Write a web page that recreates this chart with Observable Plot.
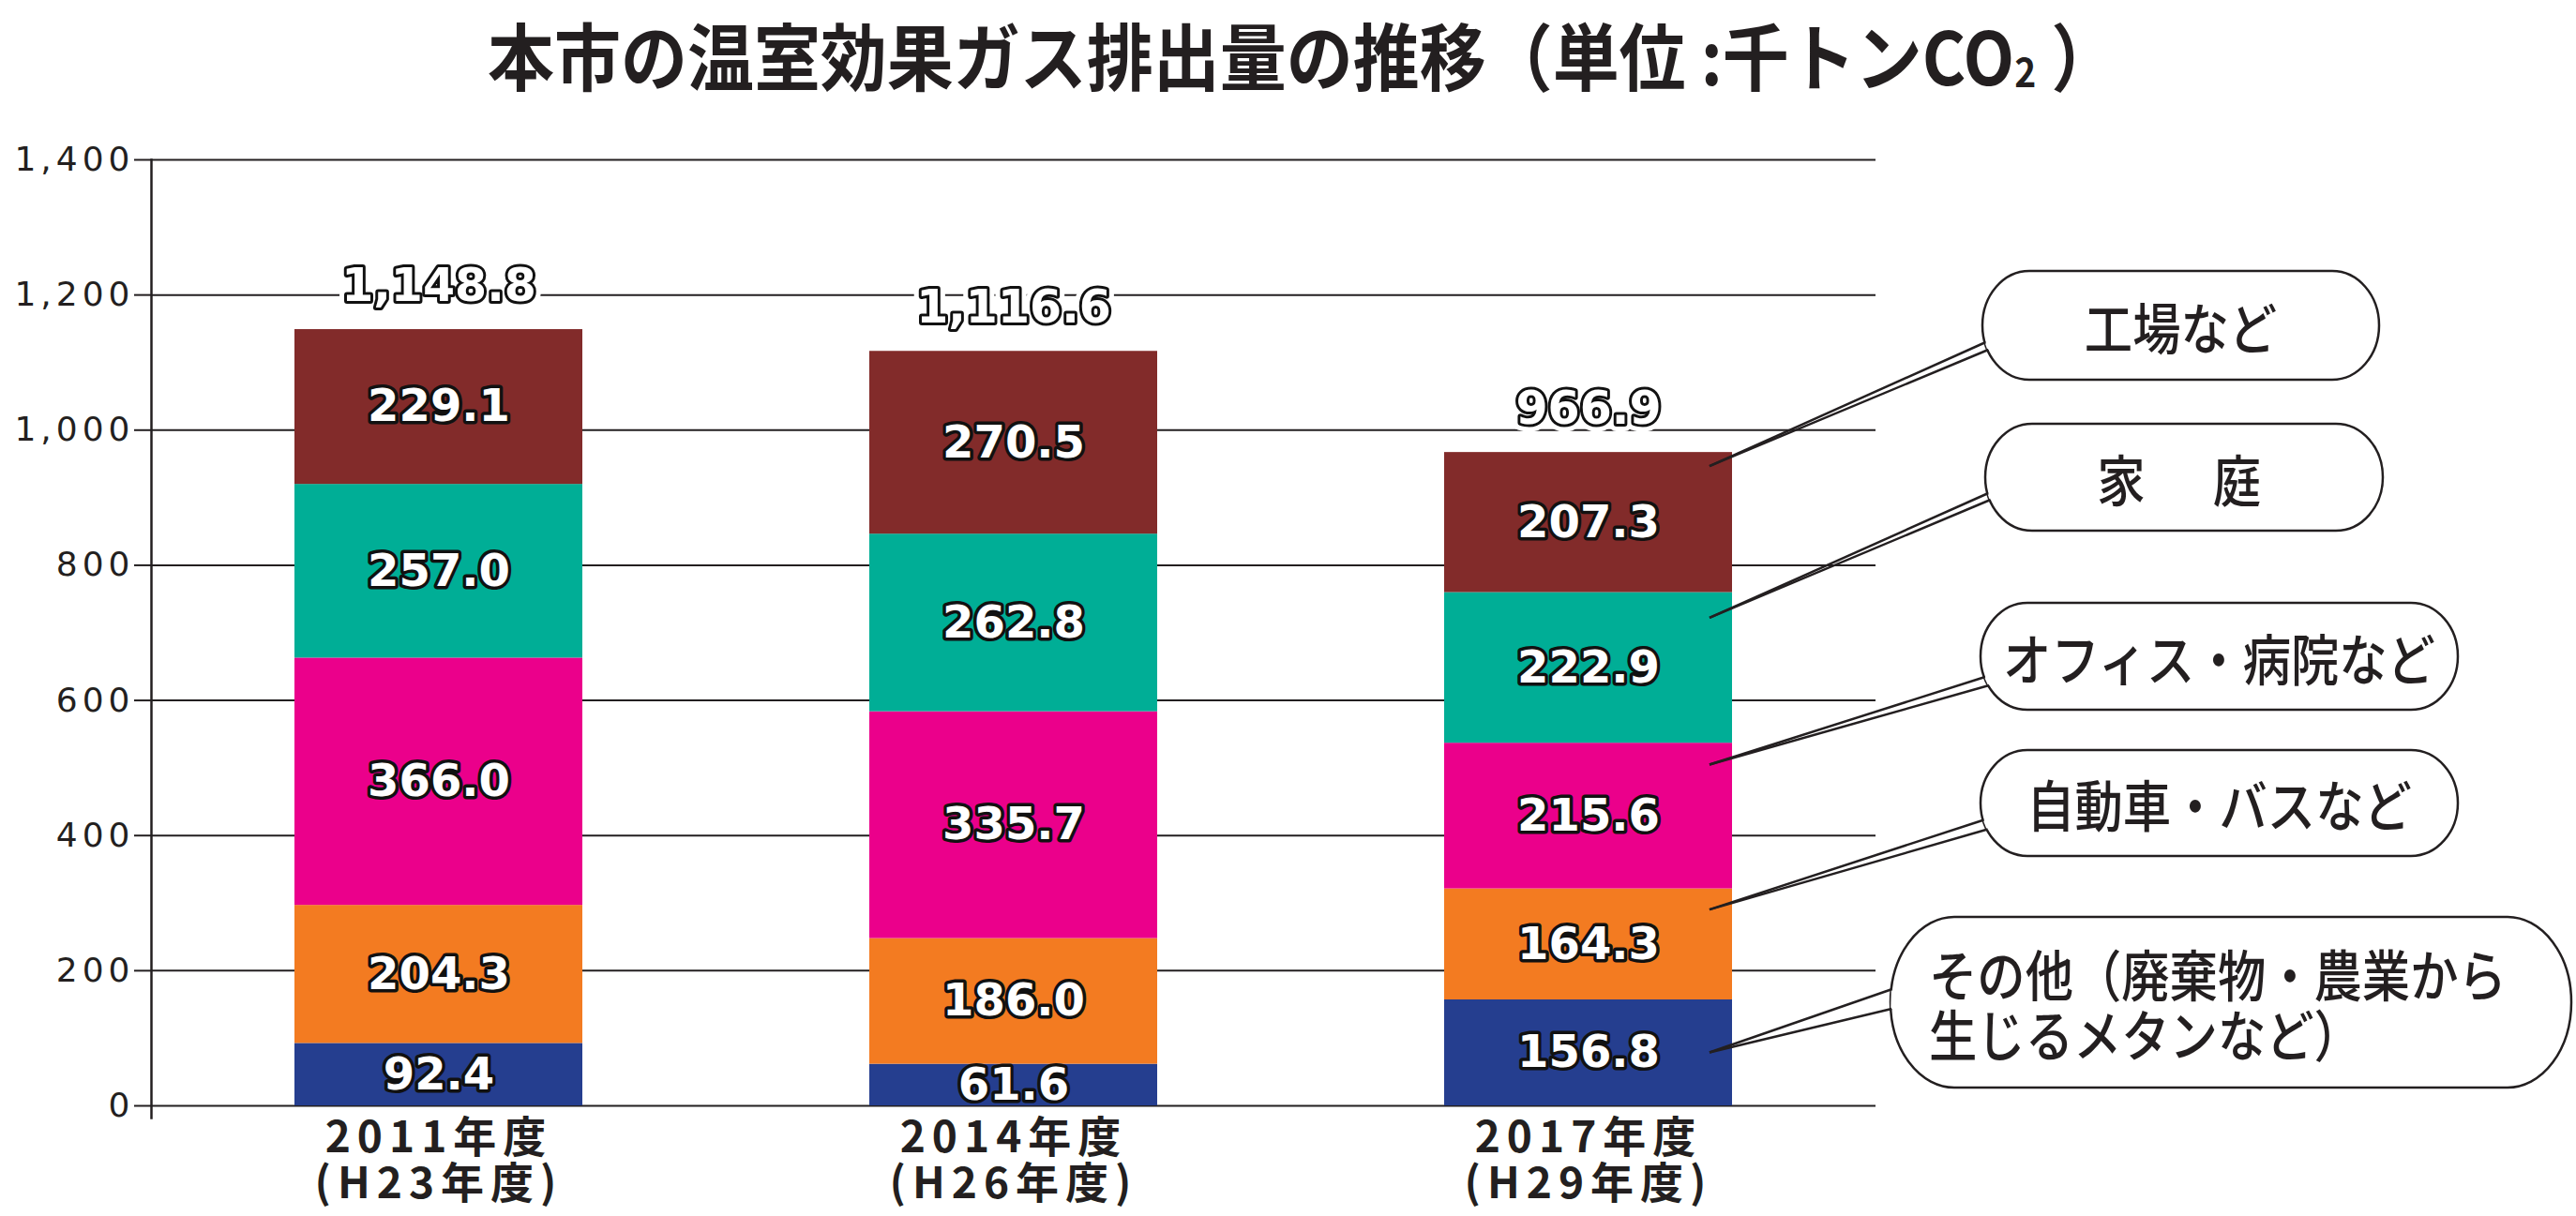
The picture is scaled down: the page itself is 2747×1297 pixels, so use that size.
<!DOCTYPE html>
<html><head><meta charset="utf-8">
<script src="https://cdn.jsdelivr.net/npm/d3@7"></script>
<script src="https://cdn.jsdelivr.net/npm/@observablehq/plot@0.6"></script>
<style>
html,body{margin:0;padding:0;background:#fff;}
#title{height:130px;box-sizing:border-box;padding-top:16px;text-align:center;font-family:"Noto Sans CJK JP";font-weight:700;font-size:78px;line-height:82px;color:#231f20;white-space:nowrap;overflow:hidden;}
#title span{display:inline-block;transform:scaleX(0.91);position:relative;left:16px;}
#title sub{font-size:0.55em;vertical-align:-0.05em;line-height:0;}
g[aria-label="y-axis tick label"] text{letter-spacing:5px;}
g[aria-label="x-axis tick label"] text{letter-spacing:7px;}
</style></head><body>
<div id="title"><span>本市の温室効果ガス排出量の推移（単位 :千トンCO<sub>2</sub> ）</span></div>
<div id="chart"></div>
<script>
// ---- data ----
const years = ["2011年度", "2014年度", "2017年度"];
const eras = ["(H23年度)", "(H26年度)", "(H29年度)"];
// categories from bottom of stack to top
const categories = ["その他", "自動車・バスなど", "オフィス・病院など", "家庭", "工場など"];
const otherValues   = [92.4, 61.6, 156.8];
const transportVals = [204.3, 186.0, 164.3];
const officeValues  = [366.0, 335.7, 215.6];
const homeValues    = [257.0, 262.8, 222.9];
const factoryValues = [229.1, 270.5, 207.3];
const totals = [1148.8, 1116.6, 966.9];
const yTicks = [0, 200, 400, 600, 800, 1000, 1200, 1400];
const colors = ["#253E8F", "#F37B21", "#EB008B", "#00AE96", "#822B2A"];
const calloutTexts = ["その他（廃棄物・農業から\n生じるメタンなど）", "自動車・バスなど", "オフィス・病院など", "家　庭", "工場など"];

const seriesValues = [otherValues, transportVals, officeValues, homeValues, factoryValues];
const rows = [];
years.forEach((yr, i) => categories.forEach((c, k) => rows.push({year: yr, cat: c, value: seriesValues[k][i]})));

const fmt1 = d3.format(".1f");
const fmtT = d3.format(",.1f");
const ink = "#231f20";

const chart = Plot.plot({
  width: 2747, height: 1167,
  marginLeft: 161, marginRight: 747, marginTop: 40, marginBottom: 118,
  style: {fontFamily: "DejaVu Sans", fontSize: "36px", background: "white", color: ink, overflow: "visible"},
  x: {domain: years, paddingInner: 0.5, paddingOuter: 0.25, axis: null, label: null},
  y: {domain: [0, 1400], axis: null, label: null},
  color: {domain: categories, range: colors},
  marks: [
    Plot.ruleY(yTicks, {stroke: ink, strokeWidth: 2}),
    Plot.axisY({ticks: yTicks, tickSize: 18, tickPadding: 0, strokeWidth: 2, tickFormat: d3.format(","), fontSize: 36, fontFamily: "DejaVu Sans", label: null}),
    Plot.frame({anchor: "left", stroke: ink, strokeWidth: 2.5, insetBottom: -13}),
    Plot.barY(rows, {x: "year", y: "value", fill: "cat"}),
    Plot.text(rows, Plot.stackY({x: "year", y: "value", text: d => fmt1(d.value), fill: "white", stroke: "#111", strokeWidth: 7, paintOrder: "stroke", fontSize: 48, fontWeight: "bold", fontFamily: "DejaVu Sans"})),
    Plot.text(years, {x: d => d, y: (d, i) => totals[i], text: (d, i) => fmtT(totals[i]), lineAnchor: "bottom", dy: -31, fill: "white", stroke: "white", strokeWidth: 16, fontSize: 49, fontWeight: "bold", fontFamily: "DejaVu Sans"}),
    Plot.text(years, {x: d => d, y: (d, i) => totals[i], text: (d, i) => fmtT(totals[i]), lineAnchor: "bottom", dy: -31, fill: "white", stroke: "#111", strokeWidth: 6, paintOrder: "stroke", fontSize: 49, fontWeight: "bold", fontFamily: "DejaVu Sans"}),
    Plot.axisX({tickSize: 0, tickPadding: 14, tickFormat: (d) => d + "\n" + eras[years.indexOf(d)], fontSize: 46, fontFamily: "Noto Sans CJK JP", fontWeight: 700, lineHeight: 1.08, label: null})
  ]
});
document.getElementById("chart").appendChild(chart);

// ---- callout balloons (annotation layout) ----
const xs = chart.scale("x"), ys = chart.scale("y");
const yPx = ys.apply ? (v => ys.apply(v)) : d3.scaleLinear(ys.domain, ys.range);
const xStart = xs.apply(years[2]);
const tipX = xStart + xs.bandwidth - 24;
// layout per category (bottom->top order)
const layout = [
  {x: 2016, y: 848, w: 726, h: 182, rx: 68, d1: -14, d2: 7, tipFrac: 0.50, tx: 2057, anchor: "start", ls: 0},
  {x: 2112, y: 670, w: 509, h: 113, rx: 50, d1: 18, d2: 28, tipFrac: 0.19, anchor: "middle", ls: 0},
  {x: 2112, y: 513, w: 509, h: 114, rx: 50, d1: 22, d2: 31, tipFrac: 0.15, anchor: "middle", ls: 0},
  {x: 2117, y: 322, w: 424, h: 114, rx: 50, d1: 17, d2: 24, tipFrac: 0.17, anchor: "middle", ls: 12},
  {x: 2114, y: 159, w: 423, h: 116, rx: 50, d1: 18, d2: 26, tipFrac: 0.10, anchor: "middle", ls: 0}
];
const svg = d3.select(chart);
const g = svg.append("g").attr("aria-label", "callouts");
let cum = 0;
categories.forEach((c, k) => {
  const v = seriesValues[k][2];
  cum += v;
  const L = layout[k];
  const tip = [tipX, yPx(cum - L.tipFrac * v)];
  const cy = L.y + L.h / 2, ry = L.h / 2;
  const edge = d => L.x + L.rx * (1 - Math.sqrt(Math.max(0, 1 - (d / ry) ** 2)));
  const a1 = [edge(L.d1), cy + L.d1], a2 = [edge(L.d2), cy + L.d2];
  g.append("rect").attr("x", L.x).attr("y", L.y).attr("width", L.w).attr("height", L.h)
    .attr("rx", L.rx).attr("ry", ry).attr("fill", "white").attr("stroke", ink).attr("stroke-width", 2.5);
  g.append("polygon").attr("points", [a1, a2, [a2[0] + 8, a2[1]], [a1[0] + 8, a1[1]]].map(p => p.join(",")).join(" "))
    .attr("fill", "white");
  [a1, a2].forEach(a => g.append("line").attr("x1", tip[0]).attr("y1", tip[1]).attr("x2", a[0] + 1).attr("y2", a[1])
    .attr("stroke", ink).attr("stroke-width", 2.5));
  const lines = calloutTexts[k].split("\n");
  const tx = L.anchor === "start" ? L.tx : L.x + L.w / 2;
  const tg = g.append("g").attr("transform", `translate(${tx},${cy}) scale(0.87,1)`);
  lines.forEach((ln, j) => {
    tg.append("text").attr("x", 0).attr("y", (j - (lines.length - 1) / 2) * 64)
      .attr("text-anchor", L.anchor).attr("dominant-baseline", "central")
      .attr("font-family", "Noto Sans CJK JP").attr("font-weight", 500).attr("font-size", 59)
      .attr("letter-spacing", L.ls).attr("fill", ink).text(ln);
  });
});
</script>
</body></html>
